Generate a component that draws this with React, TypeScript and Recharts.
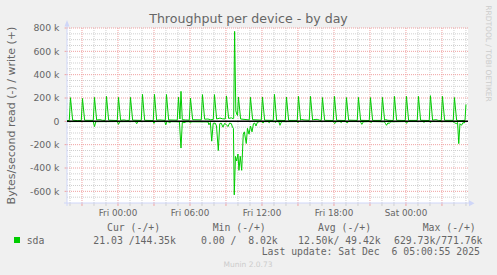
import React from 'react';
import { LineChart, Line, XAxis, YAxis, ReferenceLine, CartesianGrid } from 'recharts';

// ---------- data (hours relative to Fri 00:00, values in kB/s) ----------
const xTickHours = [0, 6, 12, 18, 24];
const xTickLabels = ['Fri 00:00', 'Fri 06:00', 'Fri 12:00', 'Fri 18:00', 'Sat 00:00'];
const yTicks = [-600000, -400000, -200000, 0, 200000, 400000, 600000, 800000];
const yTickLabels = ['-600 k', '-400 k', '-200 k', '0', '200 k', '400 k', '600 k', '800 k'];
const majorHours = [-3, 0, 3, 6, 9, 12, 15, 18, 21, 24, 27];
const minorHours = [-4, -2, -1, 1, 2, 4, 5, 7, 8, 10, 11, 13, 14, 16, 17, 19, 20, 22, 23, 25, 26, 28, 29];
const minorY = [-650000, -550000, -500000, -450000, -350000, -300000, -250000, -150000, -100000, -50000,
  50000, 100000, 150000, 250000, 300000, 350000, 450000, 500000, 550000, 650000, 700000, 750000];
const X_DOMAIN: [number, number] = [-4.25, 29.17];
const Y_DOMAIN: [number, number] = [-700000, 800000];

// write (+), [hour, kB/s]
const writeSeries: [number, number][] = [
  [-4.25, 7], [-4.06, 7], [-3.96, 203], [-3.78, 10], [-3.4, 6],
  [-3.06, 7], [-2.96, 196], [-2.78, 9],
  [-2.06, 8], [-1.96, 205], [-1.78, 12], [-1.5, 14], [-1.3, 9],
  [-1.06, 8], [-0.96, 214], [-0.78, 10],
  [-0.06, 7], [0.04, 205], [0.22, 9], [0.5, 12], [0.7, 8],
  [0.94, 8], [1.04, 205], [1.22, 10],
  [1.94, 8], [2.04, 231], [2.22, 9],
  [2.94, 7], [3.04, 231], [3.22, 10], [3.5, 12],
  [3.94, 8], [4.04, 230], [4.22, 12],
  [4.94, 10], [5.04, 206], [5.16, 20], [5.25, 257], [5.36, 15], [5.6, 12],
  [5.94, 10], [6.04, 200], [6.22, 14],
  [6.94, 12], [7.04, 229], [7.22, 18], [7.5, 20], [7.7, 14],
  [7.94, 15], [8.04, 229], [8.22, 20], [8.5, 28], [8.7, 22],
  [8.94, 20], [9.04, 218], [9.22, 25], [9.45, 30], [9.6, 22],
  [9.64, 25], [9.72, 771], [9.82, 90], [9.9, 60],
  [9.96, 50], [10.04, 208], [10.22, 20],
  [10.94, 12], [11.04, 206], [11.22, 14],
  [11.94, 10], [12.04, 208], [12.22, 10],
  [12.94, 8], [13.04, 231], [13.22, 9],
  [13.94, 7], [14.04, 208], [14.22, 8],
  [14.94, 8], [15.04, 214], [15.22, 10], [15.3, 16], [15.5, 12],
  [15.94, 9], [16.04, 214], [16.22, 11], [16.3, 15], [16.6, 17], [16.8, 10],
  [16.94, 8], [17.04, 204], [17.22, 9],
  [17.94, 7], [18.04, 214], [18.22, 9],
  [18.94, 7], [19.04, 204], [19.22, 10],
  [19.94, 8], [20.04, 205], [20.22, 9],
  [20.94, 7], [21.04, 204], [21.22, 8],
  [21.94, 8], [22.04, 205], [22.22, 10], [22.3, 15], [22.5, 9],
  [22.94, 7], [23.04, 214], [23.22, 9],
  [23.94, 7], [24.04, 214], [24.22, 8],
  [24.94, 8], [25.04, 214], [25.22, 9],
  [25.94, 7], [26.04, 220], [26.22, 10], [26.5, 14], [26.7, 8],
  [26.94, 7], [27.04, 214], [27.22, 9],
  [27.94, 8], [28.04, 204], [28.22, 10], [28.4, 6],
  [28.92, 8], [29.0, 144.35],
];

// read (-), [hour, kB/s] drawn below zero
const readSeries: [number, number][] = [
  [-4.25, -2], [-2.06, -2], [-1.96, -45], [-1.85, -3],
  [-0.06, -2], [0.04, -26], [0.15, -3],
  [1.45, -2], [1.56, -20], [1.66, -2],
  [2.92, -2], [3.0, -18], [3.1, -2],
  [3.9, -2], [3.98, -30], [4.08, -2],
  [4.2, -3], [4.3, -15], [4.4, -3],
  [5.12, -4], [5.25, -229], [5.36, -8], [5.5, -12], [5.7, -4],
  [5.95, -3], [6.04, -15], [6.15, -4],
  [7.5, -5], [7.58, -30], [7.7, -10], [7.81, -170], [7.93, -18], [8.1, -15], [8.21, -40],
  [8.36, -250], [8.48, -20], [8.6, -15], [8.75, -50], [8.88, -18], [9.0, -25], [9.17, -45],
  [9.3, -15], [9.45, -20], [9.54, -50], [9.62, -60], [9.69, -630], [9.79, -300], [9.89, -340],
  [10.0, -280], [10.08, -420], [10.19, -300], [10.31, -420], [10.44, -110], [10.53, -90],
  [10.69, -190], [10.79, -60], [10.92, -110], [11.04, -40], [11.17, -90], [11.29, -20],
  [11.4, -15], [11.5, -40], [11.62, -8], [11.8, -3],
  [12.0, -2], [12.08, -15], [12.2, -3],
  [12.5, -2], [12.6, -12], [12.7, -2],
  [13.05, -3], [13.12, -10], [13.2, -3],
  [13.4, -2], [13.5, -34], [13.6, -8], [13.7, -3],
  [14.9, -2], [15.0, -10], [15.1, -2],
  [17.95, -2], [18.06, -20], [18.2, -3],
  [18.5, -2], [18.6, -10], [18.7, -2],
  [19.0, -2], [19.1, -15], [19.2, -2],
  [20.2, -2], [20.32, -26], [20.45, -4],
  [21.0, -2], [21.1, -10], [21.2, -2],
  [22.2, -4], [22.3, -20], [22.38, -34], [22.5, -12], [22.6, -20], [22.72, -4],
  [23.95, -2], [24.05, -17], [24.15, -2],
  [25.4, -2], [25.5, -8], [25.6, -2],
  [25.95, -2], [26.05, -10], [26.15, -2],
  [27.9, -3], [28.05, -12], [28.2, -20], [28.3, -8], [28.4, -191], [28.5, -20], [28.63, -34],
  [28.75, -10], [28.85, -15], [28.92, -4], [29.0, -0.02],
];

const seriesName = 'sda';
const legendHeaders = ['Cur (-/+)', 'Min (-/+)', 'Avg (-/+)', 'Max (-/+)'];
const legendValues = ['21.03 /144.35k', '0.00 /  8.02k', '12.50k/ 49.42k', '629.73k/771.76k'];
const lastUpdate = 'Last update: Sat Dec  6 05:00:55 2025';
const title = 'Throughput per device - by day';
const yLabel = 'Bytes/second read (-) / write (+)';
const sideText = 'RRDTOOL / TOBI OETIKER';
const footer = 'Munin 2.0.73';

// ---------- styles ----------
const GREEN = '#00cc00';
const FONT = '#666666';
const AXIS = '#CFD6F8';
const MGRID = '#f0a0a0';
const GRID = '#cfcfcf';
const SANS = '"DejaVu Sans", sans-serif';
const MONO = '"DejaVu Sans Mono", monospace';

const writeData = writeSeries.map(([h, v]) => ({ h, v: v * 1000 }));
const readData = readSeries.map(([h, v]) => ({ h, v: v * 1000 }));

const headerX = [107, 212.7, 318, 422.7];
const valueX = [93.3, 201, 298, 394];

export default function App() {
  return (
    <div style={{ position: 'absolute', left: 0, top: 0, width: 497, height: 275, background: '#f0f0f0' }}>
      <LineChart width={497} height={275} data={writeData} margin={{ top: 28, right: 29, left: 0, bottom: 0 }}>
        <CartesianGrid horizontal={false} vertical={false} fill="#ffffff" stroke="none" />
        <XAxis
          type="number"
          dataKey="h"
          domain={X_DOMAIN}
          allowDataOverflow
          ticks={xTickHours}
          tickFormatter={(v: number) => xTickLabels[xTickHours.indexOf(v)] ?? ''}
          height={72}
          axisLine={false}
          tickLine={false}
          tickSize={0}
          tickMargin={6.5}
          tick={{ fill: FONT, fontSize: 8.8, fontFamily: SANS }}
          interval={0}
        />
        <YAxis
          type="number"
          domain={Y_DOMAIN}
          allowDataOverflow
          ticks={yTicks}
          tickFormatter={(v: number) => yTickLabels[yTicks.indexOf(v)] ?? ''}
          width={67}
          axisLine={false}
          tickLine={false}
          tickSize={0}
          tickMargin={7.5}
          tick={{ fill: FONT, fontSize: 9.3, fontFamily: SANS }}
          interval={0}
        />
        {minorY.map((v) => (
          <ReferenceLine key={'my' + v} y={v} stroke={GRID} strokeDasharray="1 1" strokeWidth={1} />
        ))}
        {minorHours.map((h) => (
          <ReferenceLine key={'mx' + h} x={h} stroke={GRID} strokeDasharray="1 1" strokeWidth={1} />
        ))}
        {yTicks.map((v) => (
          <ReferenceLine key={'Y' + v} y={v} stroke={MGRID} strokeDasharray="1 1" strokeWidth={1} />
        ))}
        {majorHours.map((h) => (
          <ReferenceLine key={'X' + h} x={h} stroke={MGRID} strokeDasharray="1 1" strokeWidth={1} />
        ))}
        {minorHours.map((h) => (
          <ReferenceLine key={'tx' + h} ifOverflow="visible" stroke={GRID}
            segment={[{ x: h, y: -700000 }, { x: h, y: -725000 }]} />
        ))}
        {majorHours.map((h) => (
          <ReferenceLine key={'TX' + h} ifOverflow="visible" stroke={MGRID}
            segment={[{ x: h, y: -700000 }, { x: h, y: -725000 }]} />
        ))}
        {yTicks.map((v) => (
          <ReferenceLine key={'TY' + v} ifOverflow="visible" stroke={MGRID}
            segment={[{ x: -4.25, y: v }, { x: -4.45, y: v }]} />
        ))}
        <ReferenceLine ifOverflow="visible" stroke={AXIS}
          segment={[{ x: -4.5, y: -700000 }, { x: 29.4, y: -700000 }]} />
        <ReferenceLine ifOverflow="visible" stroke={AXIS}
          segment={[{ x: -4.25, y: -725000 }, { x: -4.25, y: 830000 }]} />
        <Line data={writeData} dataKey="v" type="linear" stroke={GREEN} strokeWidth={1} dot={false}
          isAnimationActive={false} />
        <Line data={readData} dataKey="v" type="linear" stroke={GREEN} strokeWidth={1} dot={false}
          isAnimationActive={false} />
        <ReferenceLine y={0} stroke="#000000" strokeWidth={1.5} />
      </LineChart>
      <svg width={497} height={275} style={{ position: 'absolute', left: 0, top: 0, pointerEvents: 'none' }}>
        <polygon points="64.5,26.5 69.5,26.5 67,20" fill={AXIS} />
        <polygon points="469,200.3 469,206.3 474.5,203.3" fill={AXIS} />
        <text x={248.5} y={22.5} textAnchor="middle" fontFamily={SANS} fontSize={12.6} fill={FONT}>{title}</text>
        <text transform="translate(14.5,115.5) rotate(-90)" textAnchor="middle" fontFamily={SANS} fontSize={11}
          fill={FONT}>{yLabel}</text>
        <text transform="translate(486,53.5) rotate(90)" textAnchor="middle" fontFamily={SANS} fontSize={7.5}
          fill="#cccccc">{sideText}</text>
        {legendHeaders.map((t, i) => (
          <text key={t} x={headerX[i]} y={230.8} fontFamily={MONO} fontSize={9.8} fill={FONT} xmlSpace="preserve"
            style={{ whiteSpace: 'pre' }}>{t}</text>
        ))}
        <rect x={14} y={237} width={6} height={6} fill={GREEN} />
        <text x={26.7} y={243.5} fontFamily={MONO} fontSize={9.8} fill={FONT}>{seriesName}</text>
        {legendValues.map((t, i) => (
          <text key={t} x={valueX[i]} y={243.5} fontFamily={MONO} fontSize={9.8} fill={FONT} xmlSpace="preserve"
            style={{ whiteSpace: 'pre' }}>{t}</text>
        ))}
        <text x={261.7} y={255.3} fontFamily={MONO} fontSize={9.8} fill={FONT} xmlSpace="preserve"
          style={{ whiteSpace: 'pre' }}>{lastUpdate}</text>
        <text x={248} y={267} textAnchor="middle" fontFamily={SANS} fontSize={7.5} fill="#cccccc">{footer}</text>
      </svg>
    </div>
  );
}
